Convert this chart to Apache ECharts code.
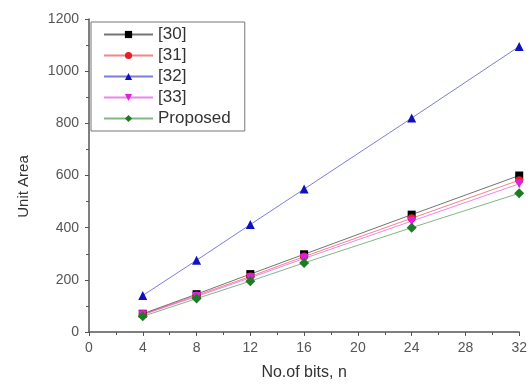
<!DOCTYPE html>
<html>
<head>
<meta charset="utf-8">
<script src="https://cdn.jsdelivr.net/npm/echarts@6/dist/echarts.min.js"></script>
<style>
  html, body { margin: 0; padding: 0; background: #fff; }
  #chart { width: 530px; height: 386px; }
</style>
</head>
<body>
<div id="chart"></div>
<script>
// bit widths on the x axis
const bits = [4, 8, 12, 16, 24, 32];

// unit area per design
const ref30 = [70, 145, 222, 298, 450, 600];
const ref31 = [68, 140, 213, 289, 436, 582];
const ref32 = [140, 275, 412, 548, 820, 1095];
const ref33 = [66, 136, 208, 282, 425, 568];
const proposed = [60, 128, 195, 265, 400, 532];

const seriesNames = ['[30]', '[31]', '[32]', '[33]', 'Proposed'];
const seriesData = [ref30, ref31, ref32, ref33, proposed];
const colors = ['#000000', '#e3202a', '#1010c0', '#e020e0', '#1d7a25'];
const symbols = ['rect', 'circle', 'triangle', 'triangle', 'diamond'];
const rotations = [0, 0, 0, 180, 0];
const sizes = [8, 8, 9, 9, 10];

const chart = echarts.init(document.getElementById('chart'), null, { renderer: 'canvas' });

const tickColor = '#555';

chart.setOption({
  animation: false,
  backgroundColor: '#fff',
  textStyle: { fontFamily: 'Liberation Sans, Arial, sans-serif' },
  grid: { left: 89, right: 9, top: 19, bottom: 53 },
  legend: {
    orient: 'vertical',
    left: 91,
    top: 22,
    padding: [4, 14, 4, 12],
    itemGap: 4,
    itemWidth: 49,
    itemHeight: 9,
    borderColor: '#777',
    borderWidth: 1,
    textStyle: { fontSize: 17, color: '#333' },
    data: seriesNames
  },
  xAxis: {
    type: 'value',
    min: 0,
    max: 32,
    interval: 4,
    name: 'No.of bits, n',
    nameLocation: 'middle',
    nameGap: 33,
    nameTextStyle: { fontSize: 16, color: '#333' },
    axisLine: { onZero: false, lineStyle: { color: tickColor, width: 1.5 } },
    axisTick: { length: 4, lineStyle: { color: tickColor } },
    minorTick: { show: true, splitNumber: 2, length: 3, lineStyle: { color: tickColor } },
    axisLabel: { fontSize: 14, color: '#555', margin: 9 },
    splitLine: { show: false }
  },
  yAxis: {
    type: 'value',
    min: 0,
    max: 1200,
    interval: 200,
    name: 'Unit Area',
    nameLocation: 'middle',
    nameGap: 58,
    nameTextStyle: { fontSize: 15, color: '#333', padding: [0, 22, 0, 0] },
    axisLine: { show: true, lineStyle: { color: tickColor, width: 1.5 } },
    axisTick: { show: true, length: 4, lineStyle: { color: tickColor } },
    minorTick: { show: true, splitNumber: 2, length: 3, lineStyle: { color: tickColor } },
    axisLabel: { fontSize: 14, color: '#555', margin: 10, formatter: v => String(v) },
    splitLine: { show: false }
  },
  series: seriesNames.map((name, i) => ({
    name: name,
    type: 'line',
    data: bits.map((b, j) => [b, seriesData[i][j]]),
    symbol: symbols[i],
    symbolSize: sizes[i],
    symbolRotate: rotations[i],
    showAllSymbol: true,
    itemStyle: { color: colors[i] },
    lineStyle: { color: colors[i], width: 1, opacity: 0.55 }
  }))
});
</script>
</body>
</html>
